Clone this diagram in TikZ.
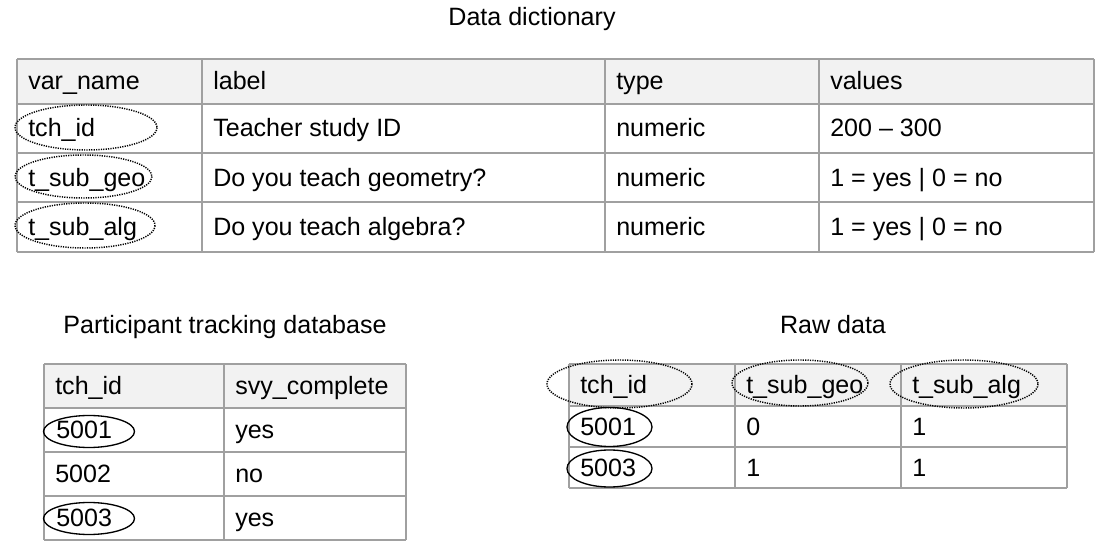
\documentclass[tikz,border=0pt]{standalone}
\usepackage{fontspec}
\setmainfont{Liberation Sans}
\usetikzlibrary{positioning}

\definecolor{gridgray}{HTML}{A0A0A0}
\definecolor{headfill}{HTML}{F2F2F2}

\tikzset{
	celltext/.style={anchor=base west, inner sep=0pt, font=\fontsize{18.8}{22}\selectfont},
	titletext/.style={anchor=base, inner sep=0pt, font=\fontsize{18.8}{22}\selectfont},
	gridline/.style={draw=gridgray, line width=1pt},
	headcell/.style={fill=headfill},
	dotring/.style={draw=black, line width=1.1pt, dash pattern=on 0.9pt off 0.9pt},
	ring/.style={draw=black, line width=1pt}
}

\begin{document}
\begin{tikzpicture}[x=0.75pt, y=-0.75pt]
	\useasboundingbox (0,0) rectangle (1115,552);

	% data dictionary
	\node[titletext] (dd-title) at (532,26) {Data dictionary};
	\fill[headcell] (17,59) rectangle (1094,104);
	\foreach \y in {59,104,153,202,252}
		\draw[gridline] (17,\y) -- (1094,\y);
	\foreach \x in {17,202,605,819,1094}
		\draw[gridline] (\x,59) -- (\x,252);
	\node[celltext] (dd-var) at (28,90) {var\_name};
	\node[celltext] (dd-lab) at (213,90) {label};
	\node[celltext] (dd-typ) at (616,90) {type};
	\node[celltext] (dd-val) at (830,90) {values};
	\node[celltext] (dd-tch) at (28,136.5) {tch\_id};
	\node[celltext] (dd-tchlab) at (213,136.5) {Teacher study ID};
	\node[celltext] (dd-tchtyp) at (616,136.5) {numeric};
	\node[celltext] (dd-tchval) at (830,136.5) {200 – 300};
	\node[celltext] (dd-geo) at (28,186.5) {t\_sub\_geo};
	\node[celltext] (dd-geolab) at (213,186.5) {Do you teach geometry?};
	\node[celltext] (dd-geotyp) at (616,186.5) {numeric};
	\node[celltext] (dd-geoval) at (830,186.5) {1 = yes | 0 = no};
	\node[celltext] (dd-alg) at (28,235.5) {t\_sub\_alg};
	\node[celltext] (dd-alglab) at (213,235.5) {Do you teach algebra?};
	\node[celltext] (dd-algtyp) at (616,235.5) {numeric};
	\node[celltext] (dd-algval) at (830,235.5) {1 = yes | 0 = no};
	\draw[dotring] (86,127.5) ellipse [x radius=71, y radius=22.5];
	\draw[dotring] (83.5,176.5) ellipse [x radius=68.5, y radius=21.5];
	\draw[dotring] (85,225.5) ellipse [x radius=70, y radius=22.5];

	% participant tracking database
	\node[titletext] (pt-title) at (225,334) {Participant tracking database};
	\fill[headcell] (44,364) rectangle (406,408);
	\foreach \y in {364,408,452,496,540}
		\draw[gridline] (44,\y) -- (406,\y);
	\foreach \x in {44,224,406}
		\draw[gridline] (\x,364) -- (\x,540);
	\node[celltext] (pt-id) at (55,395) {tch\_id};
	\node[celltext] (pt-svy) at (235,395) {svy\_complete};
	\node[celltext] (pt-a) at (56,438.5) {5001};
	\node[celltext] (pt-asvy) at (235,438.5) {yes};
	\node[celltext] (pt-b) at (55,482.5) {5002};
	\node[celltext] (pt-bsvy) at (235,482.5) {no};
	\node[celltext] (pt-c) at (56,526.5) {5003};
	\node[celltext] (pt-csvy) at (235,526.5) {yes};
	\draw[ring] (89,431.5) ellipse [x radius=45.5, y radius=16];
	\draw[ring] (89,518.5) ellipse [x radius=45.5, y radius=16];

	% raw data
	\node[titletext] (rd-title) at (833,334) {Raw data};
	\fill[headcell] (569,364) rectangle (1067,406);
	\foreach \y in {364,406,447,488}
		\draw[gridline] (569,\y) -- (1067,\y);
	\foreach \x in {569,735,901,1067}
		\draw[gridline] (\x,364) -- (\x,488);
	\node[celltext] (rd-id) at (580,394) {tch\_id};
	\node[celltext] (rd-geo) at (746,394) {t\_sub\_geo};
	\node[celltext] (rd-alg) at (912,394) {t\_sub\_alg};
	\node[celltext] (rd-a) at (580,435.5) {5001};
	\node[celltext] (rd-ageo) at (746,435.5) {0};
	\node[celltext] (rd-aalg) at (912,435.5) {1};
	\node[celltext] (rd-c) at (580,476.5) {5003};
	\node[celltext] (rd-cgeo) at (746,476.5) {1};
	\node[celltext] (rd-calg) at (912,476.5) {1};
	\draw[dotring] (619.5,384) ellipse [x radius=72.5, y radius=24];
	\draw[dotring] (800,383) ellipse [x radius=68, y radius=23];
	\draw[dotring] (964,384) ellipse [x radius=74, y radius=24];
	\draw[ring] (609.5,427) ellipse [x radius=42.5, y radius=19.5];
	\draw[ring] (609.5,468.5) ellipse [x radius=42.5, y radius=18.5];
\end{tikzpicture}
\end{document}
